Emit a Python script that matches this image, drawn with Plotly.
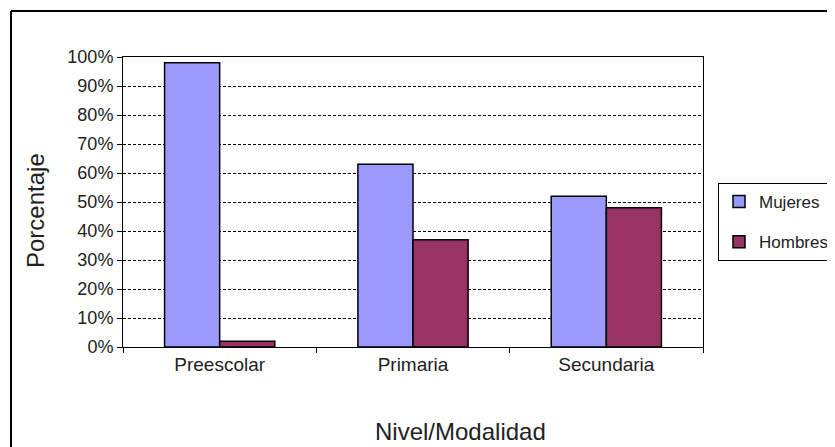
import plotly.graph_objects as go

categories = ["Preescolar", "Primaria", "Secundaria"]
mujeres = [98, 63, 52]
hombres = [2, 37, 48]
series_names = ["Mujeres", "Hombres"]
y_ticks = [0, 10, 20, 30, 40, 50, 60, 70, 80, 90, 100]
y_tick_labels = [f"{v}%" for v in y_ticks]

FONT = "Liberation Sans, Arial, sans-serif"

# page body has an 8px margin: figure is drawn 8px right/down
OFF = 8
W, H = 835 - OFF, 447 - OFF
L, R, T, B = 123 - OFF, 835 - 703, 57 - OFF, 447 - 347
PW, PH = W - L - R, H - T - B


def px_x(x):  # reference pixel -> paper x
    return (x - OFF - L) / PW


def px_y(y):  # reference pixel -> paper y
    return (H - B - (y - OFF)) / PH


fig = go.Figure()
fig.add_trace(go.Bar(name=series_names[0], x=categories, y=mujeres, legendgroup="m",
                     marker=dict(color="#9999FF", line=dict(color="black", width=1.5))))
fig.add_trace(go.Bar(name=series_names[1], x=categories, y=hombres, legendgroup="h",
                     marker=dict(color="#993366", line=dict(color="black", width=1.5))))

fig.update_layout(
    width=W, height=H,
    margin=dict(l=L, r=R, t=T, b=B, autoexpand=False),
    paper_bgcolor="white", plot_bgcolor="white",
    barmode="group", bargap=0.43, bargroupgap=0,
    font=dict(family=FONT, color="#222222", size=18),
    legend=dict(xref="container", yref="container",
                x=(718 - OFF) / W, y=1 - (183 - OFF) / H, xanchor="left", yanchor="top",
                bordercolor="black", borderwidth=1, bgcolor="white",
                font=dict(size=17, color="#222222"), traceorder="grouped",
                tracegroupgap=15, itemwidth=30),
    xaxis=dict(showline=True, linecolor="black", linewidth=1, mirror=True,
               ticks="outside", tickson="boundaries", ticklen=5, tickcolor="black",
               tickfont=dict(size=19)),
    yaxis=dict(range=[0, 100], tickvals=y_ticks, ticktext=y_tick_labels,
               showline=True, linecolor="black", linewidth=1, mirror=True,
               ticks="outside", ticklen=5, tickcolor="black",
               showgrid=True, gridcolor="black", gridwidth=1, griddash="3px,2px",
               zeroline=False, tickfont=dict(size=18)),
    annotations=[
        dict(text="Nivel/Modalidad", x=px_x(460), xanchor="center",
             y=px_y(431), yanchor="middle", xref="paper", yref="paper",
             showarrow=False, font=dict(size=24)),
        dict(text="Porcentaje", textangle=-90, x=px_x(35), xanchor="center",
             y=px_y(211), yanchor="middle", xref="paper", yref="paper",
             showarrow=False, font=dict(size=24)),
    ],
    shapes=[
        dict(type="line", xref="paper", yref="paper",
             x0=px_x(11), x1=px_x(850), y0=px_y(11), y1=px_y(11),
             line=dict(color="black", width=2)),
        dict(type="line", xref="paper", yref="paper",
             x0=px_x(11), x1=px_x(11), y0=px_y(11), y1=px_y(460),
             line=dict(color="black", width=2)),
    ],
)

fig.write_html("out.html")
